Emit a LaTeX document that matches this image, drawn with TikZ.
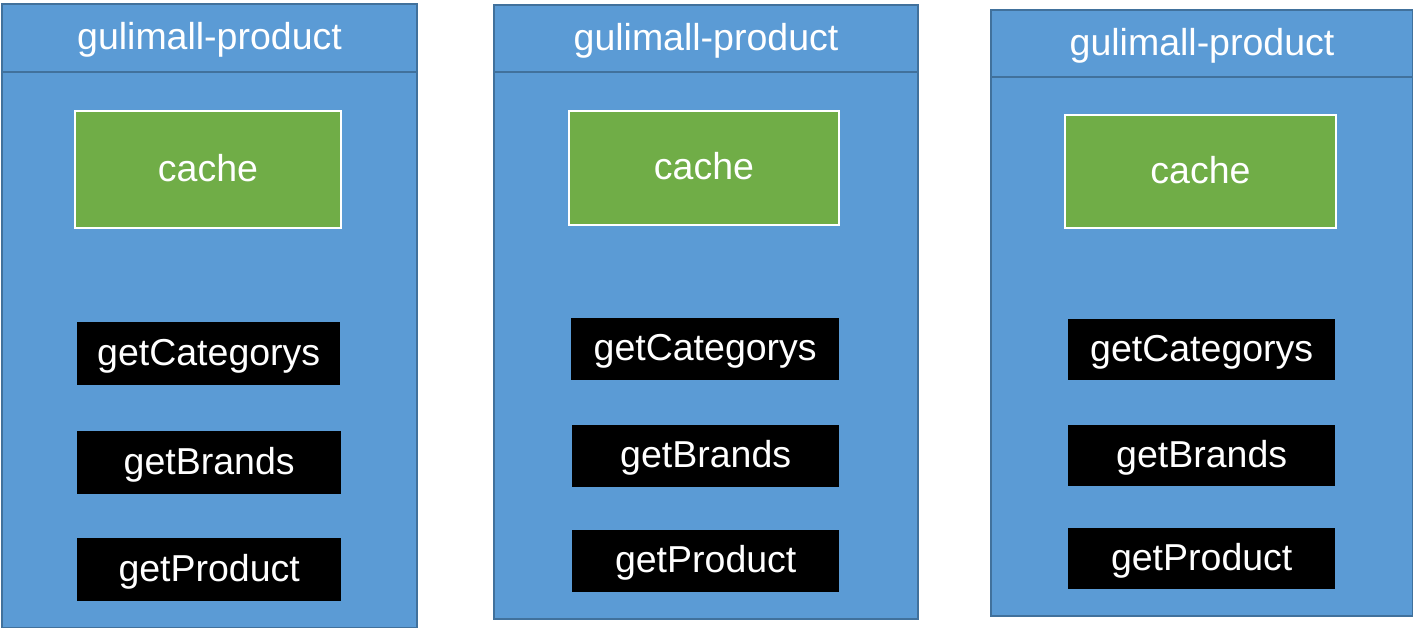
\documentclass[tikz,border=0pt]{standalone}
\usepackage{fontspec}
\setmainfont{Liberation Sans}
\definecolor{svcblue}{HTML}{5B9BD5}
\definecolor{svcedge}{HTML}{41719C}
\definecolor{cachegreen}{HTML}{70AD47}
\tikzset{
  lbl/.style={text=white, font=\fontsize{37.5}{42}\selectfont, text height=31.5pt, text depth=8.25pt},
  svcbox/.style={draw=svcedge, fill=svcblue, line width=2pt, inner sep=0pt, anchor=north west},
  hdrbox/.style={draw=svcedge, fill=svcblue, line width=2pt, inner sep=0pt, anchor=north west, lbl},
  cachebox/.style={draw=white, fill=cachegreen, line width=2pt, inner sep=0pt, anchor=north west, lbl},
  fnbox/.style={fill=black, inner sep=0pt, anchor=north west, lbl}
}
\begin{document}
\begin{tikzpicture}[x=1pt,y=-1pt]
\useasboundingbox (0,0) rectangle (1413,628);
\fill[white] (0,0) rectangle (1413,628);
% column 1
\node[svcbox, minimum width=415pt, minimum height=624pt] (s1) at (1,3) {};
\node[hdrbox, minimum width=415pt, minimum height=68pt] (h1) at (1,3) {gulimall-product};
\node[cachebox, minimum width=266pt, minimum height=117pt] (c1) at (74,110) {cache};
\node[fnbox, minimum width=263pt, minimum height=63pt] (f1a) at (77,322) {getCategorys};
\node[fnbox, minimum width=264pt, minimum height=63pt] (f1b) at (77,431) {getBrands};
\node[fnbox, minimum width=264pt, minimum height=63pt] (f1c) at (77,538) {getProduct};
% column 2
\node[svcbox, minimum width=424pt, minimum height=614pt] (s2) at (493,4) {};
\node[hdrbox, minimum width=424pt, minimum height=67pt] (h2) at (493,4) {gulimall-product};
\node[cachebox, minimum width=270pt, minimum height=114pt] (c2) at (568,110) {cache};
\node[fnbox, minimum width=268pt, minimum height=62pt] (f2a) at (571,318) {getCategorys};
\node[fnbox, minimum width=267pt, minimum height=62pt] (f2b) at (572,425) {getBrands};
\node[fnbox, minimum width=267pt, minimum height=62pt] (f2c) at (572,530) {getProduct};
% column 3
\node[svcbox, minimum width=422pt, minimum height=606pt] (s3) at (990,9) {};
\node[hdrbox, minimum width=422pt, minimum height=67pt] (h3) at (990,9) {gulimall-product};
\node[cachebox, minimum width=271pt, minimum height=113pt] (c3) at (1064,114) {cache};
\node[fnbox, minimum width=267pt, minimum height=61pt] (f3a) at (1068,319) {getCategorys};
\node[fnbox, minimum width=267pt, minimum height=61pt] (f3b) at (1068,425) {getBrands};
\node[fnbox, minimum width=267pt, minimum height=61pt] (f3c) at (1068,528) {getProduct};
\end{tikzpicture}
\end{document}
